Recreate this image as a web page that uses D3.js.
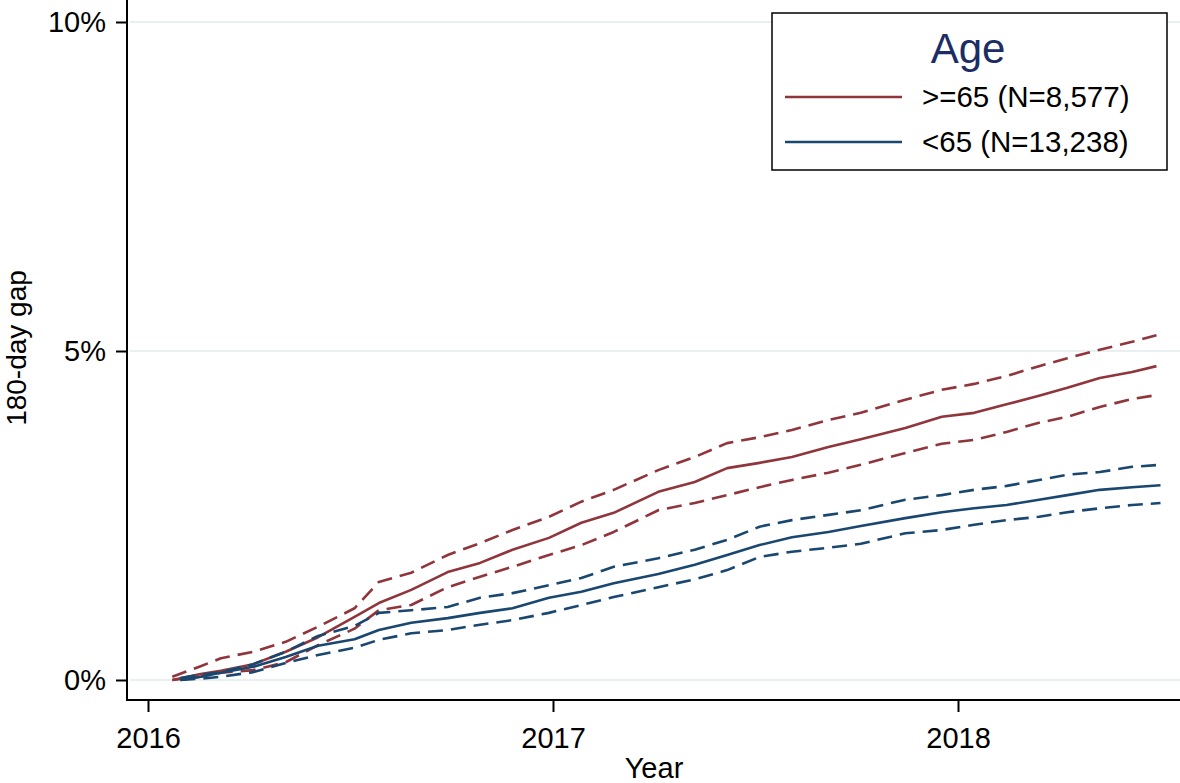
<!DOCTYPE html>
<html><head><meta charset="utf-8">
<script src="https://cdn.jsdelivr.net/npm/d3@7"></script>
<style>
body{margin:0;background:#fff}
svg{display:block}
text{font-family:"Liberation Sans", Arial, sans-serif;fill:#000}
</style>
</head><body>
<svg id="chart" width="1180" height="783"></svg>
<script>
// ---- data (decimal year, percent) ----
const timeRed = [2016.06,2016.13,2016.18,2016.26,2016.34,2016.42,2016.51,2016.57,2016.65,2016.74,2016.82,2016.90,2016.99,2017.07,2017.15,2017.26,2017.35,2017.43,2017.51,2017.59,2017.68,2017.76,2017.87,2017.96,2018.04,2018.12,2018.20,2018.27,2018.35,2018.43,2018.49];
const timeBlue = [2016.08,2016.13,2016.18,2016.26,2016.34,2016.42,2016.51,2016.57,2016.65,2016.74,2016.82,2016.90,2016.99,2017.07,2017.15,2017.26,2017.35,2017.43,2017.51,2017.59,2017.68,2017.76,2017.87,2017.96,2018.04,2018.12,2018.20,2018.27,2018.35,2018.43,2018.50];
const redMid   = [0.00,0.09,0.14,0.24,0.43,0.65,0.96,1.17,1.37,1.64,1.78,1.98,2.16,2.39,2.54,2.86,3.01,3.22,3.30,3.39,3.54,3.66,3.83,4.00,4.06,4.19,4.32,4.44,4.59,4.68,4.77];
const redUpper = [0.05,0.21,0.33,0.43,0.58,0.81,1.09,1.49,1.63,1.90,2.08,2.28,2.48,2.71,2.89,3.19,3.39,3.60,3.69,3.80,3.95,4.06,4.26,4.41,4.50,4.62,4.77,4.89,5.02,5.14,5.24];
const redLower = [0.00,0.05,0.11,0.15,0.27,0.53,0.78,1.06,1.14,1.41,1.57,1.72,1.90,2.05,2.25,2.58,2.69,2.81,2.93,3.04,3.15,3.27,3.45,3.59,3.65,3.77,3.91,4.00,4.15,4.27,4.33];
const blueMid   = [0.00,0.05,0.11,0.20,0.35,0.52,0.62,0.76,0.87,0.94,1.02,1.09,1.25,1.34,1.47,1.61,1.75,1.90,2.05,2.17,2.25,2.34,2.46,2.55,2.61,2.66,2.74,2.81,2.89,2.93,2.96];
const blueUpper = [0.03,0.08,0.12,0.24,0.43,0.67,0.82,1.02,1.06,1.11,1.25,1.32,1.44,1.55,1.72,1.85,1.98,2.13,2.33,2.43,2.51,2.58,2.74,2.81,2.89,2.95,3.04,3.12,3.16,3.24,3.27];
const blueLower = [0.00,0.02,0.05,0.12,0.26,0.38,0.49,0.61,0.71,0.76,0.84,0.91,1.02,1.14,1.26,1.41,1.53,1.67,1.87,1.95,2.01,2.07,2.23,2.28,2.36,2.43,2.48,2.55,2.61,2.66,2.69];
const yTicks = [0, 5, 10];
const xTicks = [2016, 2017, 2018];
const legendTitle = "Age";
const legendLabels = [">=65 (N=8,577)", "<65 (N=13,238)"];
const colors = ["#90353b", "#1a476f"];

const svg = d3.select("#chart");
const x = d3.scaleLinear().domain([2016, 2018]).range([148, 958]);
const y = d3.scaleLinear().domain([0, 10]).range([680, 22]);
const plotLeft = 127, plotRight = 1180, plotBottom = 700, plotTop = 0;

// gridlines
svg.append("g").selectAll("line").data(yTicks).join("line")
  .attr("x1", plotLeft + 3).attr("x2", plotRight)
  .attr("y1", d => y(d)).attr("y2", d => y(d))
  .attr("stroke", "#e8f0f2").attr("stroke-width", 2);

// series
const series = [
  {t: timeRed, v: redUpper, c: colors[0], dash: "15,8"},
  {t: timeRed, v: redLower, c: colors[0], dash: "15,8"},
  {t: timeRed, v: redMid, c: colors[0], dash: null},
  {t: timeBlue, v: blueUpper, c: colors[1], dash: "15,8"},
  {t: timeBlue, v: blueLower, c: colors[1], dash: "15,8"},
  {t: timeBlue, v: blueMid, c: colors[1], dash: null}
];
const line = d3.line().x(d => x(d[0])).y(d => y(d[1]));
svg.append("g").selectAll("path").data(series).join("path")
  .attr("d", s => line(s.t.map((t, i) => [t, s.v[i]])))
  .attr("fill", "none").attr("stroke", s => s.c).attr("stroke-width", 2.6)
  .attr("stroke-linejoin", "round")
  .attr("stroke-dasharray", s => s.dash);

// y axis
const ya = svg.append("g").attr("transform", `translate(${plotLeft},0)`)
  .call(d3.axisLeft(y).tickValues(yTicks).tickFormat(d => d + "%").tickSize(11).tickPadding(10));
ya.select(".domain").remove();
ya.selectAll(".tick line").attr("stroke", "#000").attr("stroke-width", 2);
ya.selectAll(".tick text").attr("font-size", 29).attr("font-family", "Liberation Sans, Arial, sans-serif").attr("fill", "#000");
svg.append("line").attr("x1", plotLeft).attr("x2", plotLeft).attr("y1", plotTop).attr("y2", plotBottom + 1)
  .attr("stroke", "#000").attr("stroke-width", 2);

// x axis
const xa = svg.append("g").attr("transform", `translate(0,${plotBottom})`)
  .call(d3.axisBottom(x).tickValues(xTicks).tickFormat(d3.format("d")).tickSize(12).tickPadding(15));
xa.select(".domain").remove();
xa.selectAll(".tick line").attr("stroke", "#000").attr("stroke-width", 2);
xa.selectAll(".tick text").attr("font-size", 29).attr("font-family", "Liberation Sans, Arial, sans-serif").attr("fill", "#000");
svg.append("line").attr("x1", plotLeft).attr("x2", plotRight).attr("y1", plotBottom).attr("y2", plotBottom)
  .attr("stroke", "#000").attr("stroke-width", 2);

// axis titles
svg.append("text").attr("x", 654).attr("y", 778).attr("text-anchor", "middle")
  .attr("font-size", 29).text("Year");
svg.append("text").attr("transform", "translate(26,348) rotate(-90)").attr("text-anchor", "middle")
  .attr("font-size", 28).text("180-day gap");

// legend
const lg = svg.append("g");
lg.append("rect").attr("x", 772).attr("y", 13).attr("width", 395).attr("height", 157)
  .attr("fill", "#fff").attr("stroke", "#000").attr("stroke-width", 1.5);
lg.append("text").attr("x", 968).attr("y", 63).attr("text-anchor", "middle")
  .attr("font-size", 42).style("fill", "#1c2d66").text(legendTitle);
const rows = lg.selectAll("g.row").data(legendLabels).join("g").attr("class", "row")
  .attr("transform", (d, i) => `translate(0,${97 + i * 45})`);
rows.append("line").attr("x1", 785).attr("x2", 902).attr("y1", 0).attr("y2", 0)
  .attr("stroke", (d, i) => colors[i]).attr("stroke-width", 2.6);
rows.append("text").attr("x", 922).attr("y", 10).attr("font-size", 29.5).text(d => d);
</script>
</body></html>
